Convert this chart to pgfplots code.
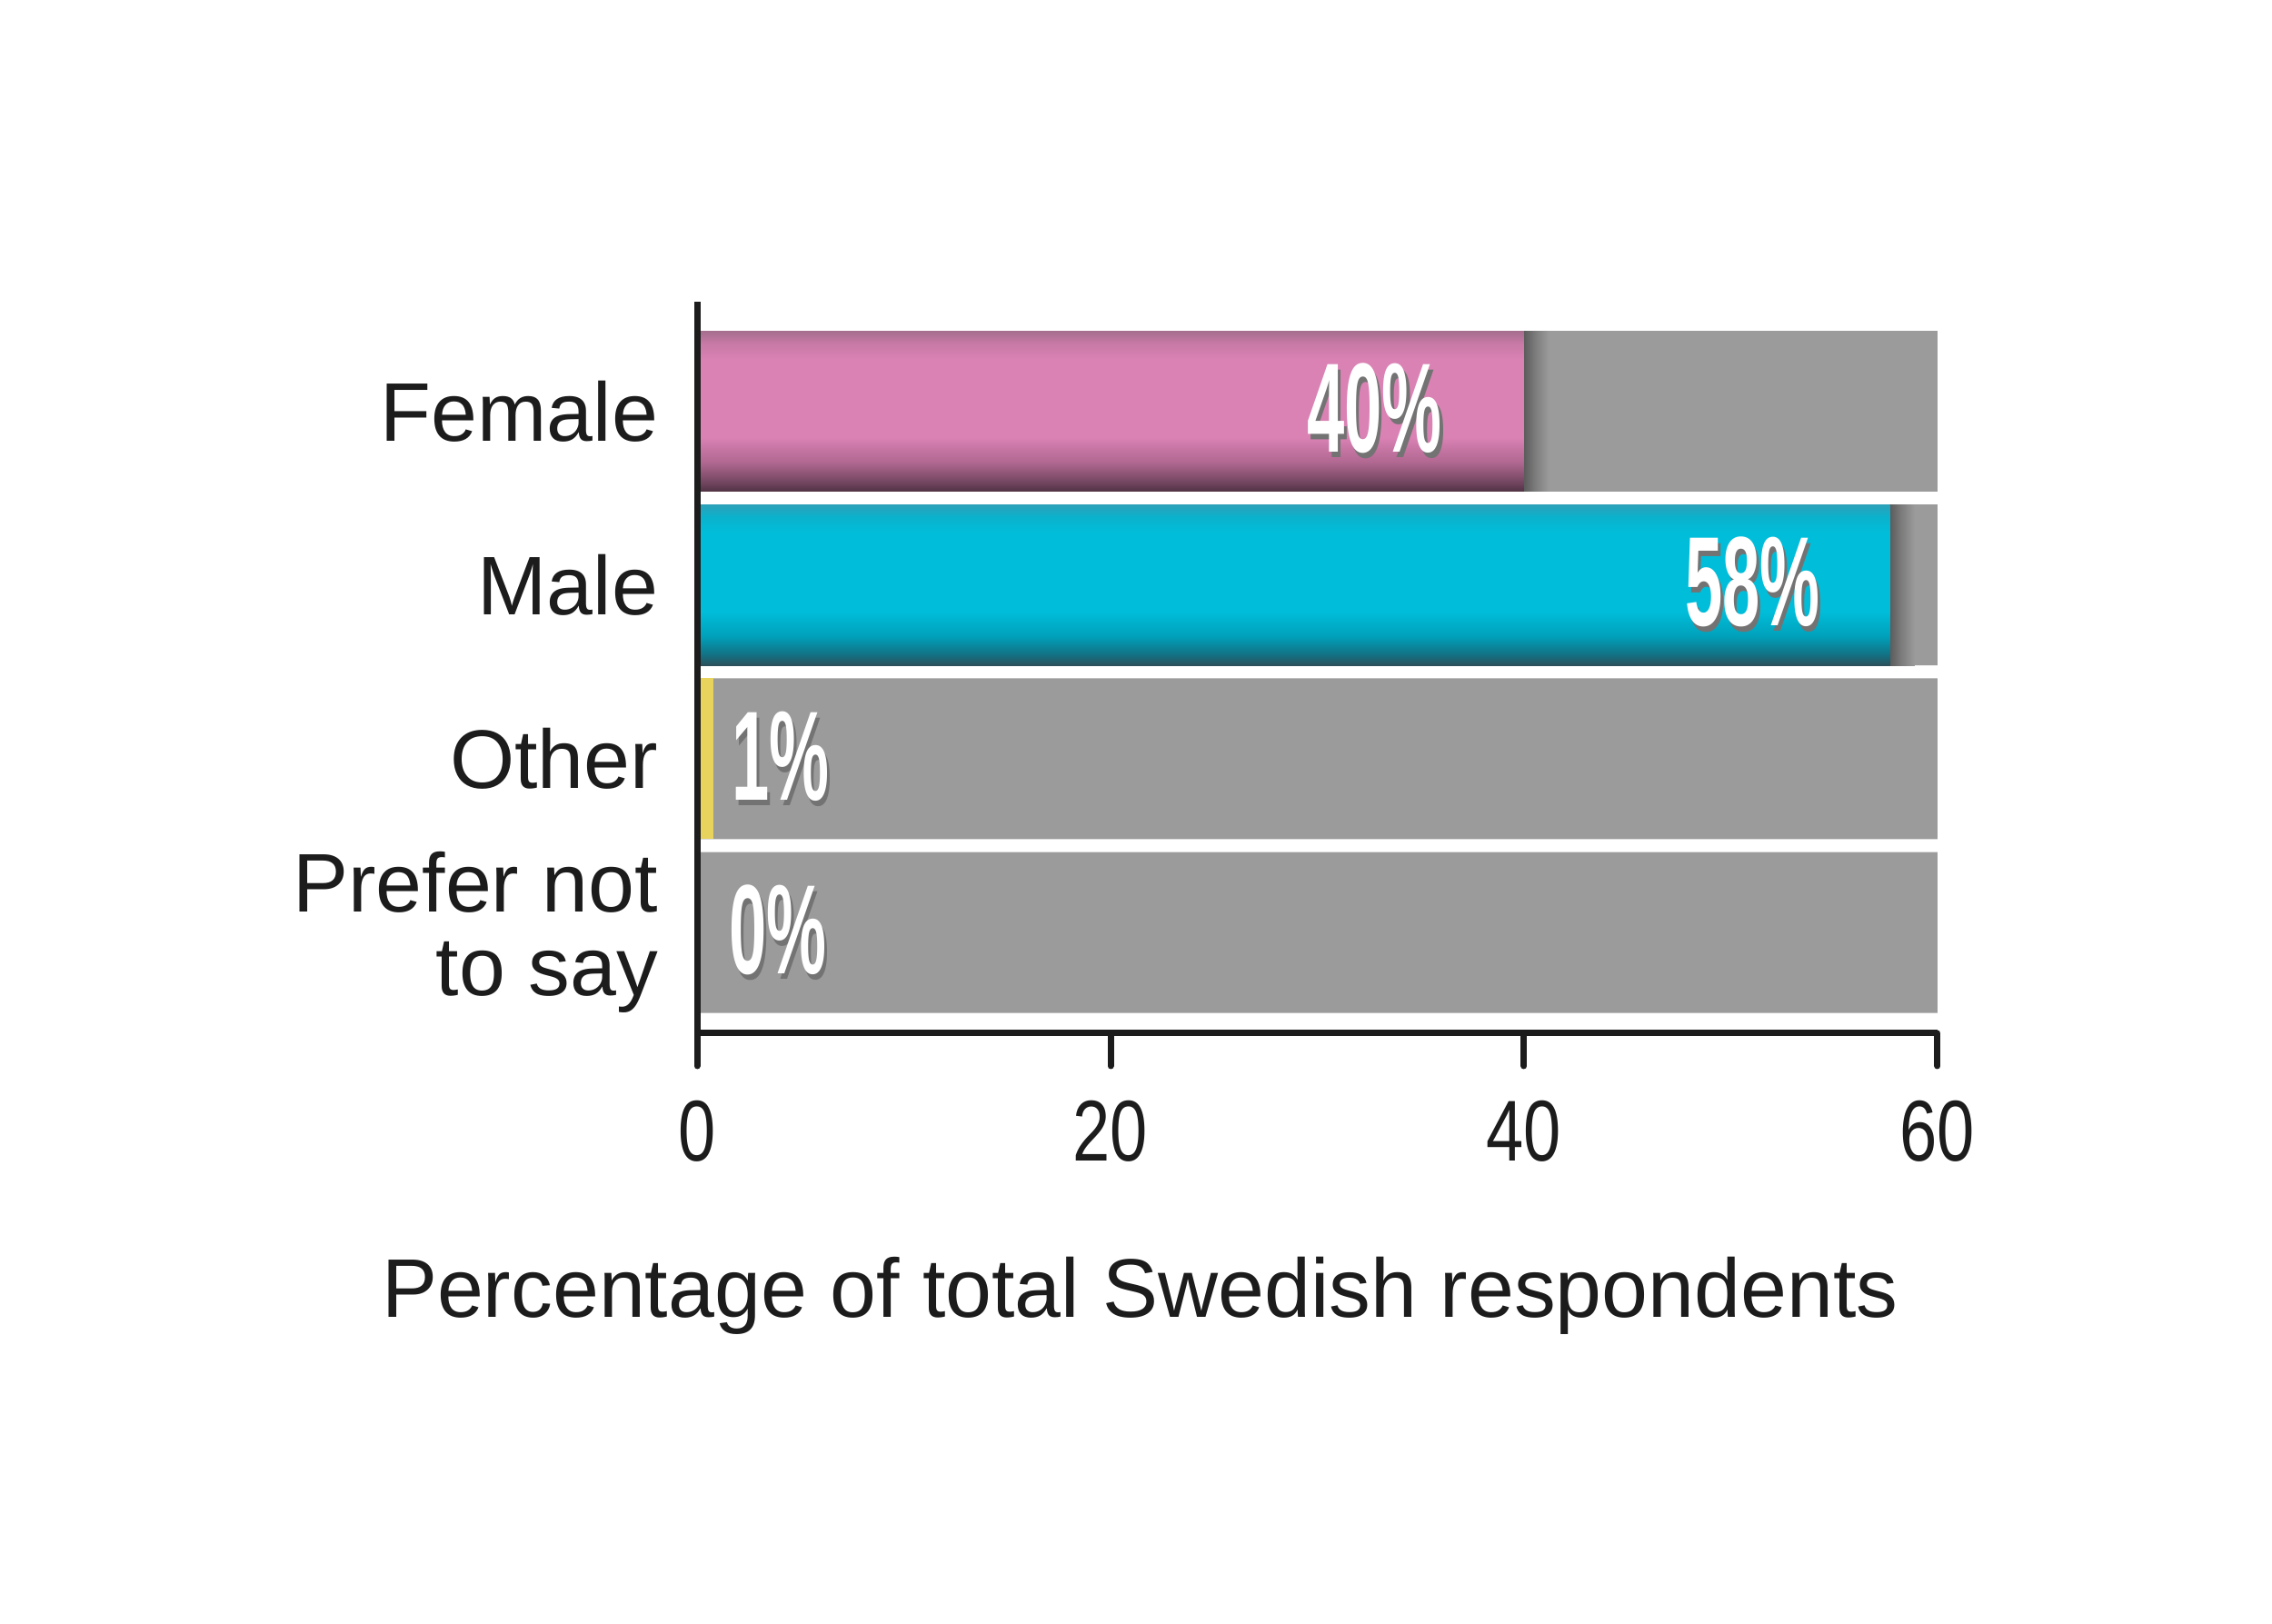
\documentclass[border=0pt]{standalone}
\usepackage{fontspec}
\setmainfont{Liberation Sans}
\usepackage{graphicx}
\usepackage{pgfplots}
\pgfplotsset{compat=1.18}
\definecolor{bgbar}{RGB}{155,155,155}
\definecolor{shadowdark}{RGB}{92,92,92}
\definecolor{shadowmid}{RGB}{125,125,125}
\definecolor{pinkbot}{RGB}{80,50,68}
\definecolor{pinkdeep}{RGB}{115,70,96}
\definecolor{pinklow}{RGB}{175,103,144}
\definecolor{pinkmid}{RGB}{218,130,180}
\definecolor{pinkhi}{RGB}{200,122,166}
\definecolor{pinktop}{RGB}{165,110,142}
\definecolor{cyanbot}{RGB}{45,80,90}
\definecolor{cyandeep}{RGB}{20,110,128}
\definecolor{cyanlow}{RGB}{0,160,186}
\definecolor{cyanmid}{RGB}{0,190,218}
\definecolor{cyanhi}{RGB}{10,178,205}
\definecolor{cyantop}{RGB}{45,160,185}
\definecolor{yellowbar}{RGB}{232,211,92}
\definecolor{ink}{RGB}{28,28,28}
\pgfdeclareverticalshading{pinkshade}{100bp}{color(0bp)=(pinkbot); color(25bp)=(pinkbot); color(28bp)=(pinkdeep); color(34bp)=(pinklow); color(42bp)=(pinkmid); color(66bp)=(pinkmid); color(71bp)=(pinkhi); color(75bp)=(pinktop); color(100bp)=(pinktop)}
\pgfdeclareverticalshading{cyanshade}{100bp}{color(0bp)=(cyanbot); color(25bp)=(cyanbot); color(28bp)=(cyandeep); color(34bp)=(cyanlow); color(42bp)=(cyanmid); color(66bp)=(cyanmid); color(71bp)=(cyanhi); color(75bp)=(cyantop); color(100bp)=(cyantop)}
\pgfdeclarehorizontalshading{femshadow}{100bp}{color(0bp)=(shadowdark); color(73.54bp)=(shadowdark); color(74.2bp)=(shadowmid); color(75bp)=(bgbar); color(100bp)=(bgbar)}
\pgfdeclarehorizontalshading{maleshadow}{100bp}{color(0bp)=(shadowdark); color(73.98bp)=(shadowdark); color(74.45bp)=(shadowmid); color(75bp)=(bgbar); color(100bp)=(bgbar)}
\newcommand{\barlab}[1]{\scalebox{0.53}[1]{\bfseries\fontsize{28}{28}\selectfont\makebox[0pt][l]{\kern1.2pt\raisebox{-1.2pt}{\color{black!55}#1}}#1}}
\newcommand{\sx}[1]{\scalebox{0.78}[1]{#1}}
\begin{document}
\begin{tikzpicture}
\path[use as bounding box] (0,0) rectangle (500pt,357.4pt);
\begin{axis}[
  at={(153.4pt,130pt)}, anchor=south west,
  scale only axis, width=273pt, height=161pt,
  xmin=0, xmax=60, ymin=-0.58, ymax=3.63,
  xbar, bar shift=0pt, bar width=0.925,
  axis x line*=bottom, axis y line*=left,
  axis line style={ink, line width=1.4pt},
  xtick={0,20,40,60}, xticklabels={\sx{0},\sx{20},\sx{40},\sx{60}},
  ytick={0,1,2,3}, yticklabels={Prefer not\\to say,Other,Male,Female},
  tick align=outside, major tick length=7.2pt,
  xtick style={ink, line width=1.4pt, line cap=round},
  ytick style={draw=none},
  xticklabel style={font=\fontsize{19}{19}\selectfont, text=ink, inner sep=0pt, anchor=north, yshift=-7.5pt},
  yticklabel style={font=\fontsize{18.3}{18.3}\selectfont, text=ink, align=right, inner sep=0pt, anchor=east, xshift=-1.2pt},
  xlabel={Percentage of total Swedish respondents},
  xlabel style={font=\fontsize{18.3}{18.3}\selectfont, text=ink, at={(axis description cs:0.357,0)}, anchor=base, yshift=-62.6pt, inner sep=0pt},
  clip=false, axis on top,
]
\addplot[fill=bgbar, draw=none] coordinates {(60,0) (60,1) (60,2) (60,3)};
\addplot[draw=none, shade, shading=femshadow] coordinates {(41.2,3)};
\addplot[draw=none, shade, shading=maleshadow] coordinates {(58.9,2)};
\addplot[draw=none, shade, shading=pinkshade,
  nodes near coords={\barlab{40\%}},
  every node near coord/.append style={text=white, inner sep=0pt, anchor=east, xshift=-17.8pt}]
  coordinates {(40,3)};
\addplot[draw=none, shade, shading=cyanshade,
  nodes near coords={\barlab{58\%}},
  every node near coord/.append style={text=white, inner sep=0pt, anchor=east, xshift=-15.2pt}]
  coordinates {(57.7,2)};
\addplot[draw=none, fill=yellowbar,
  nodes near coords={\barlab{1\%}},
  every node near coord/.append style={text=white, inner sep=0pt, anchor=west, xshift=3.8pt}]
  coordinates {(0.8,1)};
\addplot[draw=none, fill=none,
  nodes near coords={\barlab{0\%}},
  every node near coord/.append style={text=white, inner sep=0pt, anchor=west, xshift=6.8pt}]
  coordinates {(0,0)};
\end{axis}
\end{tikzpicture}
\end{document}
